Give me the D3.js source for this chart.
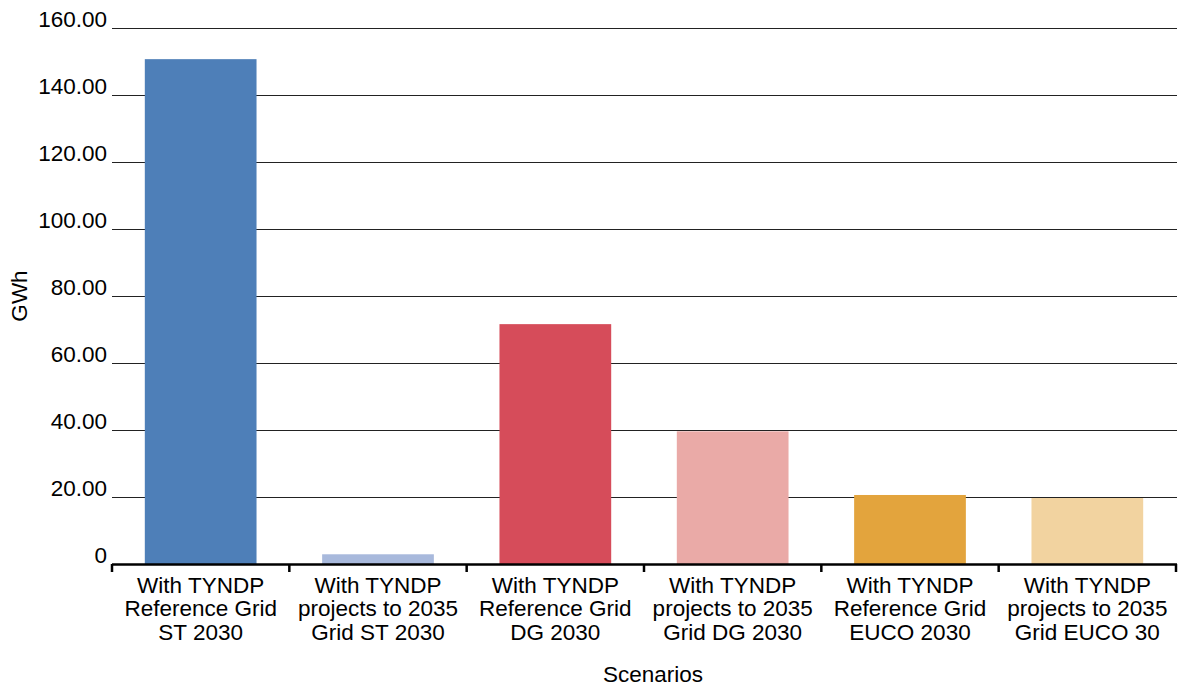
<!DOCTYPE html>
<html><head><meta charset="utf-8">
<script src="https://cdn.jsdelivr.net/npm/d3@7"></script>
<style>body{margin:0;background:#fff}svg{display:block}text{font-family:"Liberation Sans",Arial,sans-serif;fill:#000}</style>
</head><body><svg id="c" width="1190" height="686"></svg>
<script>
const categories = [
  ["With TYNDP","Reference Grid","ST 2030"],
  ["With TYNDP","projects to 2035","Grid ST 2030"],
  ["With TYNDP","Reference Grid","DG 2030"],
  ["With TYNDP","projects to 2035","Grid DG 2030"],
  ["With TYNDP","Reference Grid","EUCO 2030"],
  ["With TYNDP","projects to 2035","Grid EUCO 30"]
];
const values = [150.7, 2.9, 71.6, 39.6, 20.6, 19.7];
const colors = ["#4e7fb8","#a8b9dc","#d64c5a","#eaaaa7","#e3a43d","#f2d3a0"];
const yTicks = [0,20,40,60,80,100,120,140,160];

const svg = d3.select("#c");
const L = 112, R = 1176, T = 28, B = 564;
const FS = 22.5;
const x = d3.scaleBand().domain(d3.range(categories.length)).range([L,R]).paddingInner(0.37).paddingOuter(0.185);
const y = d3.scaleLinear().domain([0,160]).range([B,T]);

// gridlines
svg.append("g").selectAll("line").data(yTicks.filter(d=>d>0)).join("line")
  .attr("x1",L).attr("x2",R+1).attr("y1",d=>Math.round(y(d))+0.5).attr("y2",d=>Math.round(y(d))+0.5)
  .attr("stroke","#222").attr("stroke-width",1.2);

// y labels
svg.append("g").selectAll("text").data(yTicks).join("text")
  .attr("x",107).attr("y",d=>y(d)-1).attr("text-anchor","end").attr("font-size",FS)
  .text(d=>d===0?"0":d3.format(".2f")(d));

// bars
svg.append("g").selectAll("rect").data(values).join("rect")
  .attr("x",(d,i)=>x(i)).attr("width",x.bandwidth())
  .attr("y",d=>y(d)).attr("height",d=>B-y(d)).attr("fill",(d,i)=>colors[i]);

// x axis line & ticks
svg.append("line").attr("x1",L).attr("x2",R+1).attr("y1",B+0.5).attr("y2",B+0.5).attr("stroke","#000").attr("stroke-width",2.5);
const bounds = d3.range(categories.length+1).map(i=> i<categories.length ? x(i)-x.step()*0.185 : R);
svg.append("g").selectAll("line").data(bounds).join("line")
  .attr("x1",d=>d).attr("x2",d=>d).attr("y1",B).attr("y2",B+8).attr("stroke","#000").attr("stroke-width",2.5);

// x labels
const xl = svg.append("g").selectAll("text").data(categories).join("text")
  .attr("text-anchor","middle").attr("font-size",FS)
  .attr("transform",(d,i)=>`translate(${x(i)+x.bandwidth()/2},0)`);
xl.selectAll("tspan").data(d=>d).join("tspan").attr("x",0).attr("y",(d,j)=>592.5+j*23.8).text(d=>d);

// axis titles
svg.append("text").attr("x",653).attr("y",682).attr("text-anchor","middle").attr("font-size",FS).text("Scenarios");
svg.append("text").attr("transform","translate(27,296) rotate(-90)").attr("text-anchor","middle").attr("font-size",FS).text("GWh");
</script></body></html>
